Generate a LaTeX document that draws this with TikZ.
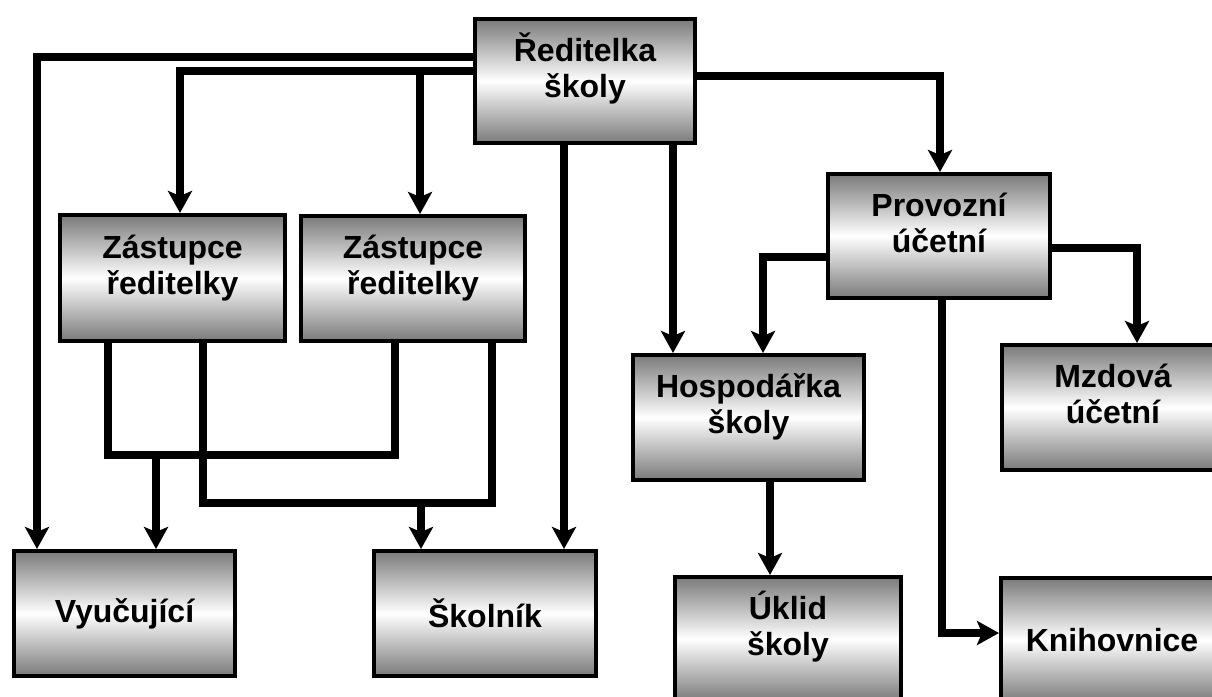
\documentclass[tikz,border=0pt]{standalone}
\usepackage{fontspec}
\setmainfont{Liberation Sans}
\usetikzlibrary{arrows.meta}
\definecolor{boxgray}{RGB}{122,122,122}
\begin{document}
\begin{tikzpicture}[x=1pt,y=-1pt,
  box/.style={draw=black, line width=4pt, rectangle, top color=boxgray, bottom color=boxgray, middle color=white,
    align=center, font=\fontsize{32}{36}\selectfont\bfseries, inner sep=0pt},
  two/.style={text height=50pt, text depth=18pt},
  conn/.style={line width=8pt, line join=miter},
  arr/.style={conn, -{Stealth[length=22pt,width=24pt,inset=5pt]}}]
\useasboundingbox (0,0) rectangle (1212,696);
\clip (0,0) rectangle (1212,696);
% boxes
\node[box, two, minimum width=220, minimum height=124] (R) at (585,81) {Ředitelka\\školy};
\node[box, two, minimum width=225, minimum height=126] (Z1) at (172.5,278) {Zástupce\\ředitelky};
\node[box, two, minimum width=224, minimum height=125] (Z2) at (413,278.5) {Zástupce\\ředitelky};
\node[box, two, minimum width=222, minimum height=124] (P) at (939,236) {Provozní\\účetní};
\node[box, two, minimum width=231, minimum height=125] (H) at (748.5,417.5) {Hospodářka\\školy};
\node[box, two, minimum width=222, minimum height=125] (M) at (1113,407.5) {Mzdová\\účetní};
\node[box, minimum width=221, minimum height=125] (V) at (124.5,613.5) {Vyučující};
\node[box, minimum width=222, minimum height=125] (S) at (485,613.5) {Školník};
\node[box, two, minimum width=226, minimum height=124] (U) at (788,639) {Úklid\\školy};
\node[box, minimum width=222, minimum height=124] (K) at (1112,640) {Knihovnice};
% junctions
\coordinate (j1) at (420,71);
\coordinate (a1) at (108,455);
\coordinate (a2) at (395,455);
\coordinate (a3) at (156,455);
\coordinate (b1) at (203,503);
\coordinate (b2) at (492,503);
\coordinate (b3) at (421,503);
% connectors
\draw[arr] (R.west |- 0,57) -| (V.north -| 37,0);
\draw[arr] (R.west |- 0,71) -| (Z1.north -| 180,0);
\draw[arr] (j1) -- (Z2.north -| j1);
\draw[arr] (R.east |- 0,76) -| (P.north -| 940,0);
\draw[arr] (R.south -| 564,0) -- (S.north -| 564,0);
\draw[arr] (R.south -| 673,0) -- (H.north -| 673,0);
\draw[conn] (Z1.south -| a1) -- (a1) -- (a2) -- (Z2.south -| a2);
\draw[arr] (a3) -- (V.north -| a3);
\draw[conn] (Z1.south -| b1) -- (b1) -- (b2) -- (Z2.south -| b2);
\draw[arr] (b3) -- (S.north -| b3);
\draw[arr] (P.west |- 0,257) -| (H.north -| 763,0);
\draw[arr] (P.east |- 0,248) -| (M.north -| 1137,0);
\draw[arr] (P.south -| 942,0) |- (K.west |- 0,633);
\draw[arr] (H.south -| 770,0) -- (U.north -| 770,0);
\end{tikzpicture}
\end{document}
